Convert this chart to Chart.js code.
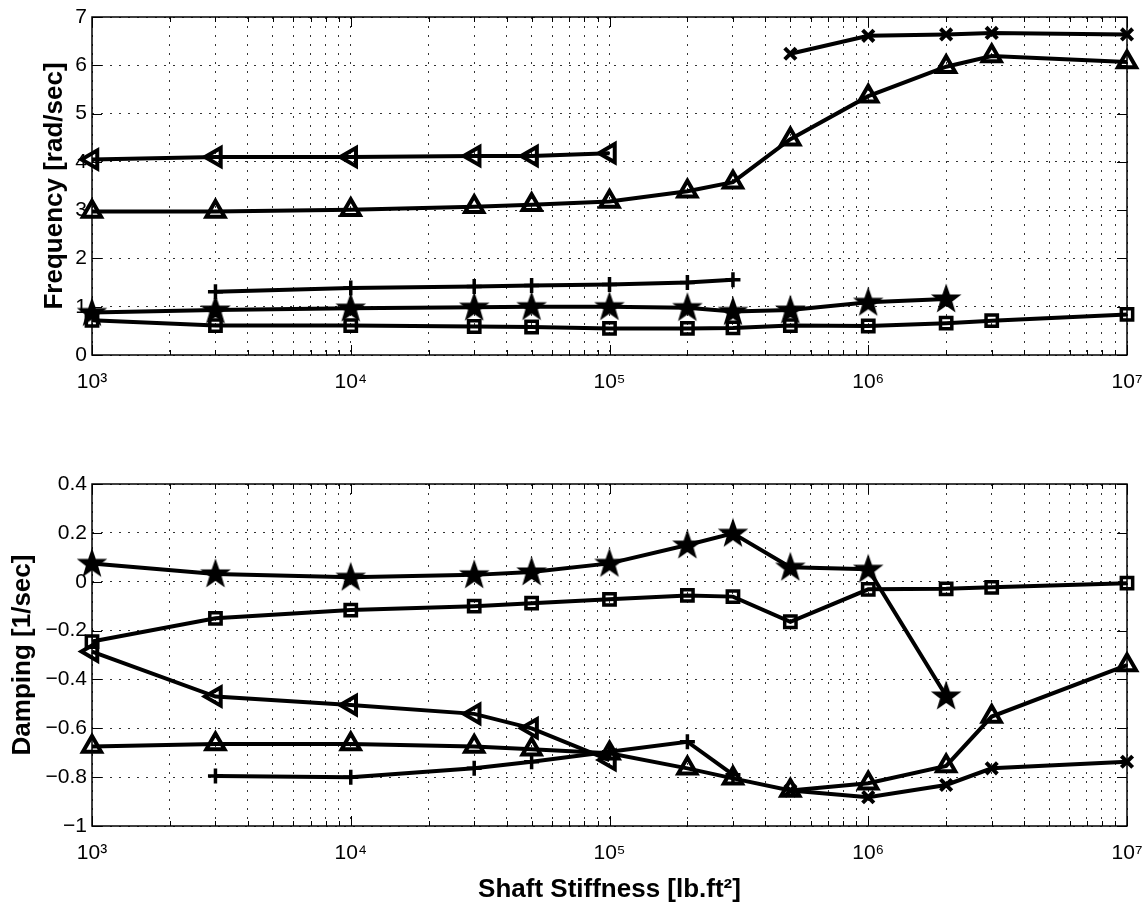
<!DOCTYPE html>
<html lang="en">
<head>
  <meta charset="UTF-8" />
  <title>Frequency and Damping vs Shaft Stiffness</title>
  <script src="https://cdn.jsdelivr.net/npm/chart.js"></script>
  <style>
    body {
      margin: 0;
      background: #fff;
    }
    #wrap {
      position: relative;
      width: 1148px;
      height: 909px;
    }
    .panel {
      position: absolute;
      left: 0;
      width: 1148px;
    }
    #freqBox { top: 0; height: 410px; }
    #dampBox { top: 440px; height: 469px; }
  </style>
</head>
<body>
  <div id="wrap">
    <div class="panel" id="freqBox"><canvas id="freqChart"></canvas></div>
    <div class="panel" id="dampBox"><canvas id="dampChart"></canvas></div>
  </div>

  <script>
    // shaft stiffness sweep [lb.ft^2]
    const stiffness = [1e3, 3e3, 1e4, 3e4, 5e4, 1e5, 2e5, 3e5, 5e5, 1e6, 2e6, 3e6, 1e7];
    const decadeTicks = [1e3, 1e4, 1e5, 1e6, 1e7];
    const decadeLabels = ['10³', '10⁴', '10⁵', '10⁶', '10⁷'];

    // frequency [rad/sec] per mode, null = mode not present
    const freqTriLeft = [4.05, 4.10, 4.10, 4.12, 4.12, 4.18, null, null, null, null, null, null, null];
    const freqTriUp   = [2.97, 2.97, 3.01, 3.07, 3.11, 3.18, 3.39, 3.58, 4.47, 5.36, 5.97, 6.19, 6.07];
    const freqCross   = [null, null, null, null, null, null, null, null, 6.24, 6.61, 6.64, 6.67, 6.64];
    const freqPlus    = [null, 1.31, 1.39, 1.42, 1.44, 1.46, 1.50, 1.56, null, null, null, null, null];
    const freqStar    = [0.88, 0.93, 0.97, 0.99, 1.00, 1.00, 0.98, 0.90, 0.93, 1.09, 1.16, null, null];
    const freqSquare  = [0.72, 0.61, 0.61, 0.59, 0.58, 0.55, 0.55, 0.56, 0.61, 0.60, 0.66, 0.71, 0.84];

    // damping [1/sec] per mode
    const dampStar    = [0.075, 0.032, 0.018, 0.028, 0.040, 0.075, 0.150, 0.198, 0.059, 0.051, -0.468, null, null];
    const dampSquare  = [-0.245, -0.150, -0.116, -0.100, -0.088, -0.072, -0.056, -0.061, -0.164, -0.031, -0.029, -0.023, -0.006];
    const dampTriLeft = [-0.286, -0.470, -0.505, -0.541, -0.600, -0.730, null, null, null, null, null, null, null];
    const dampTriUp   = [-0.675, -0.664, -0.664, -0.675, -0.686, -0.702, -0.764, -0.805, -0.855, -0.825, -0.754, -0.552, -0.341];
    const dampPlus    = [null, -0.795, -0.800, -0.764, -0.737, -0.696, -0.655, -0.790, null, null, null, null, null];
    const dampCross   = [null, null, null, null, null, null, null, null, -0.855, -0.882, -0.832, -0.764, -0.737];

    Chart.defaults.font.family = '"Liberation Sans", Arial, Helvetica, sans-serif';
    Chart.defaults.font.size = 21;
    Chart.defaults.color = '#000';

    // filled pentagram marker (matlab 'p')
    function makeStar() {
      const c = document.createElement('canvas');
      c.width = 32; c.height = 32;
      const g = c.getContext('2d');
      g.beginPath();
      for (let i = 0; i < 10; i++) {
        const r = i % 2 === 0 ? 13 : 5.2;
        const a = -Math.PI / 2 + i * Math.PI / 5;
        const px = 16 + r * Math.cos(a), py = 16.5 + r * Math.sin(a);
        if (i === 0) g.moveTo(px, py); else g.lineTo(px, py);
      }
      g.closePath();
      g.fillStyle = '#000';
      g.strokeStyle = '#000';
      g.lineWidth = 2;
      g.fill();
      g.stroke();
      return c;
    }
    const starImg = makeStar();

    const markers = {
      triLeft: { pointStyle: 'triangle', pointRotation: 270, pointRadius: 10.5, pointBorderWidth: 4 },
      triUp:   { pointStyle: 'triangle', pointRadius: 10.5, pointBorderWidth: 4 },
      cross:   { pointStyle: 'crossRot', pointRadius: 8, pointBorderWidth: 4 },
      plus:    { pointStyle: 'cross', pointRadius: 7.5, pointBorderWidth: 3.5 },
      star:    { pointStyle: starImg, pointRadius: 13 },
      square:  { pointStyle: 'rect', pointRadius: 8, pointBorderWidth: 3.5 }
    };

    function series(values, marker) {
      return Object.assign({
        data: stiffness.map((x, i) => ({ x: x, y: values[i] })).filter(p => p.y !== null),
        borderColor: '#000',
        borderWidth: 4,
        pointBorderColor: '#000',
        pointBackgroundColor: 'rgba(0,0,0,0)',
        tension: 0,
        clip: false
      }, marker);
    }

    // box around the axes plus inward tick marks, like matlab
    const framePlugin = {
      id: 'frame',
      beforeDatasetsDraw(chart) {
        const { ctx, chartArea: a, scales: { x, y } } = chart;
        ctx.save();
        ctx.strokeStyle = '#000';
        ctx.lineWidth = 1.5;
        ctx.strokeRect(a.left, a.top, a.right - a.left, a.bottom - a.top);
        ctx.lineWidth = 1;
        ctx.beginPath();
        x.ticks.forEach(t => {
          const px = Math.round(x.getPixelForValue(t.value)) + 0.5;
          const len = decadeTicks.includes(t.value) ? 10 : 5;
          ctx.moveTo(px, a.bottom); ctx.lineTo(px, a.bottom - len);
          ctx.moveTo(px, a.top); ctx.lineTo(px, a.top + len);
        });
        y.ticks.forEach(t => {
          const py = Math.round(y.getPixelForValue(t.value)) + 0.5;
          ctx.moveTo(a.left, py); ctx.lineTo(a.left + 10, py);
          ctx.moveTo(a.right, py); ctx.lineTo(a.right - 10, py);
        });
        ctx.stroke();
        ctx.restore();
      }
    };

    const dotted = { display: false, dash: [2, 7] };
    const gridOpts = { color: '#333', lineWidth: 1, drawTicks: false, tickLength: 0 };

    function makeOptions(cfg) {
      return {
        responsive: true,
        maintainAspectRatio: false,
        animation: false,
        events: [],
        layout: { padding: { top: cfg.padTop, right: 21, left: 0, bottom: 0 } },
        plugins: { legend: { display: false }, tooltip: { enabled: false } },
        scales: {
          x: {
            type: 'logarithmic',
            min: 1e3,
            max: 1e7,
            afterBuildTicks: scale => {
              const t = [];
              for (let e = 3; e < 7; e++) {
                for (let m = 1; m < 10; m++) t.push({ value: m * Math.pow(10, e) });
              }
              t.push({ value: 1e7 });
              scale.ticks = t;
            },
            afterFit: scale => {
              scale.height = cfg.xHeight;
              scale.paddingLeft = 0;
              scale.paddingRight = 0;
            },
            ticks: {
              autoSkip: false,
              maxRotation: 0,
              minRotation: 0,
              padding: 15,
              callback: v => {
                const i = decadeTicks.indexOf(v);
                return i >= 0 ? decadeLabels[i] : '';
              }
            },
            grid: gridOpts,
            border: dotted,
            title: cfg.xTitle || { display: false }
          },
          y: {
            min: cfg.yMin,
            max: cfg.yMax,
            afterFit: scale => {
              scale.width = 92;
              scale.paddingTop = 0;
              scale.paddingBottom = 0;
            },
            ticks: {
              stepSize: cfg.yStep,
              padding: 5,
              callback: v => String(Math.round(v * 10) / 10).replace('-', '\u2212')
            },
            grid: gridOpts,
            border: dotted,
            title: {
              display: true,
              text: cfg.yTitle,
              font: { size: 26, weight: 'bold' },
              padding: { top: cfg.yTitlePad, bottom: 0 }
            }
          }
        }
      };
    }

    new Chart(document.getElementById('freqChart'), {
      type: 'line',
      data: {
        datasets: [
          series(freqTriLeft, markers.triLeft),
          series(freqTriUp, markers.triUp),
          series(freqCross, markers.cross),
          series(freqPlus, markers.plus),
          series(freqStar, markers.star),
          series(freqSquare, markers.square)
        ]
      },
      options: makeOptions({
        padTop: 12, xHeight: 55, yMin: 0, yMax: 7, yStep: 1,
        yTitle: 'Frequency [rad/sec]', yTitlePad: 39
      }),
      plugins: [framePlugin]
    });

    new Chart(document.getElementById('dampChart'), {
      type: 'line',
      data: {
        datasets: [
          series(dampStar, markers.star),
          series(dampSquare, markers.square),
          series(dampTriLeft, markers.triLeft),
          series(dampTriUp, markers.triUp),
          series(dampPlus, markers.plus),
          series(dampCross, markers.cross)
        ]
      },
      options: makeOptions({
        padTop: 44, xHeight: 83, yMin: -1, yMax: 0.4, yStep: 0.2,
        yTitle: 'Damping [1/sec]', yTitlePad: 7,
        xTitle: {
          display: true,
          text: 'Shaft Stiffness [lb.ft²]',
          font: { size: 26, weight: 'bold' },
          padding: { top: 0, bottom: 4 }
        }
      }),
      plugins: [framePlugin]
    });
  </script>
</body>
</html>
